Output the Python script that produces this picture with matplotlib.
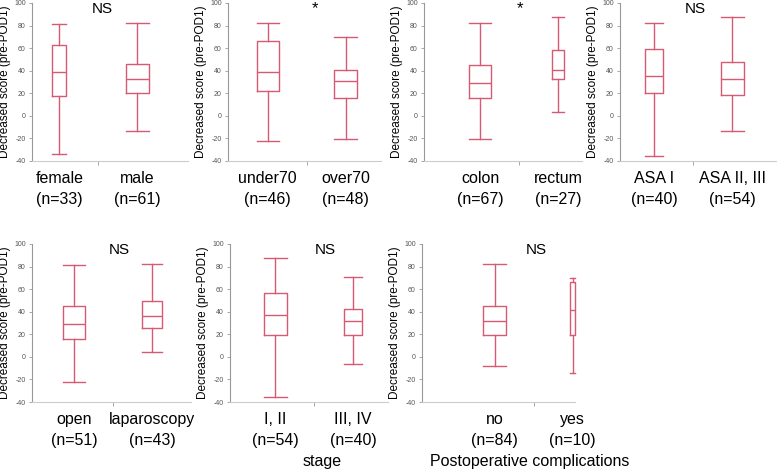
import matplotlib
matplotlib.use("Agg")
import matplotlib.pyplot as plt
import matplotlib.transforms as mtransforms

plt.rcParams['font.family'] = ['Liberation Sans', 'DejaVu Sans']

# ---- data (whisker low, Q1, median, Q3, whisker high) ----
sex_labels = ["female\n(n=33)", "male\n(n=61)"]
sex_n = [33, 61]
sex_stats = [[-34, 18, 39, 62.5, 81], [-13.5, 20, 33, 46, 82]]

age_labels = ["under70\n(n=46)", "over70\n(n=48)"]
age_n = [46, 48]
age_stats = [[-22, 22, 39, 66, 82], [-20.5, 16, 31, 40.5, 69.5]]

site_labels = ["colon\n(n=67)", "rectum\n(n=27)"]
site_n = [67, 27]
site_stats = [[-20.5, 16, 29, 45.5, 82], [3, 32.5, 41, 58, 88]]

asa_labels = ["ASA I\n(n=40)", "ASA II, III\n(n=54)"]
asa_n = [40, 54]
asa_stats = [[-35.5, 20, 35.5, 59.5, 82], [-13.5, 18.5, 32.5, 47.5, 88]]

approach_labels = ["open\n(n=51)", "laparoscopy\n(n=43)"]
approach_n = [51, 43]
approach_stats = [[-22, 16, 28.7, 45, 81], [4, 26, 36, 49.5, 82]]

stage_labels = ["I, II\n(n=54)", "III, IV\n(n=40)"]
stage_n = [54, 40]
stage_stats = [[-36, 19.5, 37, 57, 88], [-6.5, 19.5, 32, 42.5, 71]]

comp_labels = ["no\n(n=84)", "yes\n(n=10)"]
comp_n = [84, 10]
comp_stats = [[-8, 19.5, 32, 45.5, 82], [-14, 19.5, 41.5, 66, 70]]

sig_marks = ["NS", "*", "*", "NS", "NS", "NS", "NS"]
y_label = "Decreased score (pre-POD1)"
y_ticks = [-40, -20, 0, 20, 40, 60, 80, 100]

# ---- layout ----
W, H = 777, 469
fig = plt.figure(figsize=(W / 100, H / 100), dpi=100)
color = '#d65a74'
px_per_unit = 78.0

panels = [
    # (labels, n, stats, left_px, top_px, bottom_px, xmin, xmax, title_xfrac, xlabel, xlabel_xfrac)
    (sex_labels, sex_n, sex_stats, 32, 3, 161, -0.35, 1.65, 0.45, None, None),
    (age_labels, age_n, age_stats, 228, 3, 161, -0.51, 1.45, 0.57, None, None),
    (site_labels, site_n, site_stats, 424, 3, 161, -0.72, 1.30, 0.61, None, None),
    (asa_labels, asa_n, asa_stats, 620, 3, 161, -0.44, 1.56, 0.48, None, None),
    (approach_labels, approach_n, approach_stats, 32, 244, 402, -0.54, 1.50, 0.55, None, None),
    (stage_labels, stage_n, stage_stats, 230, 244, 402, -0.58, 1.45, 0.60, "stage", 0.58),
    (comp_labels, comp_n, comp_stats, 422, 244, 402, -0.93, 1.03, 0.75,
     "Postoperative complications", 0.705),
]

for i, (labels, ns, stats, lpx, tpx, bpx, xmin, xmax, tx, xlab, xlx) in enumerate(panels):
    wpx = (xmax - xmin) * px_per_unit
    ax = fig.add_axes([lpx / W, 1 - bpx / H, wpx / W, (bpx - tpx) / H])
    nmax = max(ns)
    widths = [0.29 * (n / nmax) ** 0.75 for n in ns]
    bstats = []
    for lab, s in zip(labels, stats):
        bstats.append(dict(label=lab, whislo=s[0], q1=s[1], med=s[2], q3=s[3], whishi=s[4], fliers=[]))
    lp = dict(color=color, linewidth=1.0)
    parts = ax.bxp(bstats, positions=list(range(len(labels))), widths=widths, capwidths=widths,
                   showfliers=False, boxprops=lp, whiskerprops=lp, capprops=lp,
                   medianprops=lp, manage_ticks=False)
    for key in parts:
        for artist in parts[key]:
            artist.set_clip_on(False)
    ax.set_xlim(xmin, xmax)
    ax.set_ylim(-40, 100)
    ax.set_yticks(y_ticks)
    ax.set_yticklabels([str(t) for t in y_ticks], fontsize=5, color='#555555')
    ax.tick_params(axis='y', length=2.5, width=0.6, color='#999999', pad=2)
    ax.set_xticks(range(len(labels)))
    ax.set_xticklabels(labels, fontsize=11.5, linespacing=1.55)
    ax.set_xticks([0.5], minor=True)
    ax.tick_params(axis='x', which='major', length=0, pad=7)
    ax.tick_params(axis='x', which='minor', length=3, width=0.6, color='#999999')
    for side in ('top', 'right'):
        ax.spines[side].set_visible(False)
    ax.spines['left'].set_color('#999999')
    ax.spines['left'].set_linewidth(0.8)
    ax.spines['bottom'].set_color('#cccccc')
    ax.spines['bottom'].set_linewidth(0.8)
    ax.set_ylabel(y_label, fontsize=8.5, labelpad=2)
    trans = mtransforms.blended_transform_factory(ax.transAxes, ax.transData)
    ax.text(tx, 95, sig_marks[i], transform=trans, ha='center', va='center',
            fontsize=11 if sig_marks[i] == "NS" else 12)
    if xlab:
        ax.set_xlabel(xlab, fontsize=11.5)
        ax.xaxis.set_label_coords(xlx, -0.33)

fig.savefig("out.png", dpi=100)
